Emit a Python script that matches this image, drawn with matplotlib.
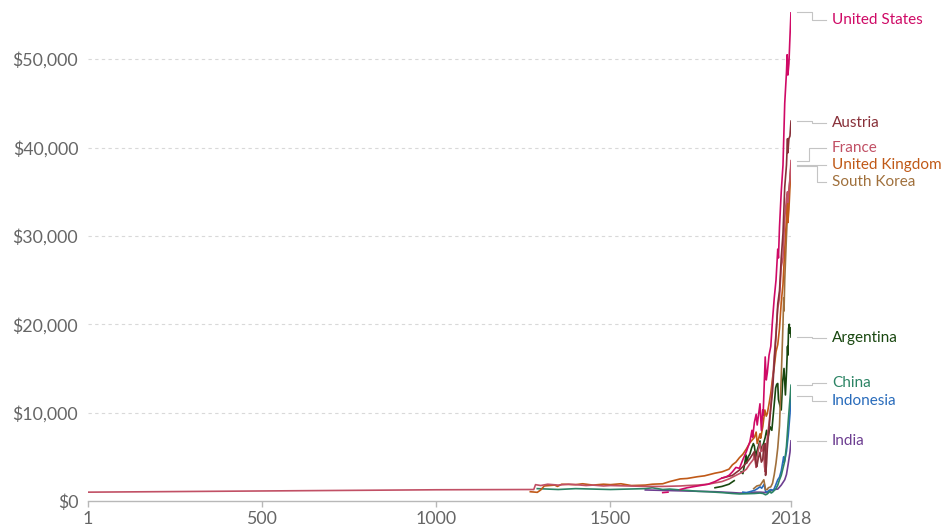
import numpy as np
import matplotlib
matplotlib.use("Agg")
import matplotlib.pyplot as plt
from matplotlib.transforms import blended_transform_factory

plt.rcParams['font.family'] = ['Lato', 'DejaVu Sans']

nan = np.nan

# ==================== DATA (GDP per capita) ===================
france_years = [1, 1000, 1280, 1285, 1300, 1320, 1350, 1380, 1400, 1430, 1450, 1480, 1500, 1550,
                1600, 1650, 1700, 1720, 1750, 1780, 1800, 1820, 1840, 1850, 1860, 1870, 1880,
                1890, 1900, 1910, 1913, 1915, 1918, 1920, 1925, 1929, 1932, 1936, 1939, 1942,
                1944, 1946, 1950, 1955, 1960, 1965, 1970, 1975, 1980, 1985, 1990, 1995, 2000,
                2005, 2008, 2009, 2012, 2015, 2018]
france_gdp = [1000, 1270, 1300, 1850, 1750, 1900, 1800, 1900, 1850, 1750, 1800, 1700, 1750, 1700,
              1650, 1650, 1700, 1750, 1800, 1900, 2050, 2200, 2500, 2700, 2900, 3100, 3300,
              3600, 4200, 4700, 5400, 4600, 3800, 4800, 5900, 6600, 5600, 5700, 6300, 3900,
              3300, 5400, 7100, 8800, 10700, 13200, 16400, 19000, 21800, 23000, 26500, 27500, 32000,
              34200, 35000, 33800, 35300, 36500, 38516]

austria_years = [1820, 1850, 1870, 1890, 1900, 1913, 1914, 1918, 1920, 1924, 1929, 1933, 1937,
                 1938, 1941, 1944, 1945, 1946, 1948, 1950, 1955, 1960, 1965, 1970, 1975, 1980,
                 1985, 1990, 1995, 2000, 2005, 2008, 2009, 2012, 2015, 2018]
austria_gdp = [2600, 2900, 3500, 4300, 4800, 5600, 5200, 4200, 3900, 4800, 5500, 4400, 4700,
               5300, 6300, 6500, 2900, 3300, 4300, 5900, 8200, 10500, 12400, 15700, 18700, 22300,
               23800, 27500, 30300, 35500, 38000, 41000, 39400, 41000, 41300, 42988]

uk_years = [1270, 1290, 1300, 1310, 1340, 1348, 1360, 1400, 1420, 1450, 1480, 1500, 1530, 1560,
            1600, 1620, 1650, 1670, 1700, 1720, 1750, 1770, 1800, 1820, 1840, 1850, 1860, 1870,
            1880, 1890, 1900, 1913, 1918, 1921, 1929, 1931, 1937, 1943, 1947, 1950, 1955, 1960,
            1965, 1970, 1975, 1980, 1985, 1990, 1995, 2000, 2005, 2007, 2009, 2012, 2015, 2018]
uk_gdp = [1050, 980, 1250, 1700, 1800, 1650, 1900, 1850, 1950, 1800, 1900, 1850, 1950, 1750,
          1800, 1900, 1950, 2200, 2500, 2550, 2750, 2850, 3150, 3300, 3600, 4100, 4400, 4900,
          5300, 5900, 6600, 7200, 7800, 6500, 7600, 7100, 8400, 10300, 9600, 9900, 11000, 12200,
          13900, 15200, 16900, 17700, 19500, 22500, 24500, 28500, 32000, 34000, 31500, 33000,
          35500, 38058]

us_years = [1650, 1665, 1680, 1700, 1720, 1750, 1780, 1800, 1820, 1830, 1840, 1850, 1860, 1870,
            1880, 1890, 1900, 1906, 1908, 1913, 1918, 1921, 1929, 1933, 1937, 1938, 1944, 1947,
            1950, 1955, 1960, 1965, 1970, 1975, 1980, 1982, 1985, 1990, 1995, 2000, 2005, 2007,
            2009, 2012, 2015, 2018]
us_gdp = [950, 1000, nan, 1300, 1500, 1700, 1900, 2200, 2600, 2700, 2900, 3300, 3800, 3700,
          4700, 5600, 6700, 8000, 7200, 8900, 9800, 8600, 11000, 8000, 10300, 9700, 16300, 13700,
          14500, 16500, 17500, 20500, 23000, 25000, 28500, 27500, 31000, 35000, 38000, 45000,
          48500, 50500, 48200, 49500, 52500, 55335]

korea_years = [1911, 1920, 1930, 1940, 1945, 1950, 1953, 1960, 1965, 1970, 1975, 1980, 1985,
               1990, 1995, 1997, 1998, 2000, 2005, 2008, 2010, 2015, 2018]
korea_gdp = [1400, 1700, 1800, 2400, 1300, 1300, 1500, 1600, 2000, 3000, 4300, 6000, 8500,
             14000, 20000, 23000, 21500, 25000, 30000, 32500, 34000, 36300, 37928]

argentina_years = [1800, 1820, 1840, 1855, 1865, 1875, 1880, 1885, 1889, 1891, 1895, 1900, 1905,
                   1910, 1913, 1917, 1920, 1929, 1932, 1939, 1944, 1948, 1952, 1958, 1963, 1970,
                   1974, 1977, 1980, 1982, 1985, 1990, 1994, 1998, 2002, 2005, 2008, 2009, 2011,
                   2013, 2014, 2015, 2017, 2018]
argentina_gdp = [1500, 1650, 1900, 2300, nan, 3300, 3100, 4200, 5200, 4300, 5000, 5300, 6000,
                 6500, 6200, 4900, 5600, 6800, 5700, 6500, 7200, 8000, 7200, 8400, 8000, 11000,
                 12800, 13200, 13300, 11500, 11000, 10300, 13500, 15000, 12000, 14500, 17500,
                 16500, 19500, 20000, 19000, 19600, 19500, 18556]

china_years = [1290, 1320, 1350, 1400, 1450, 1500, 1550, 1600, 1620, 1650, 1670, 1700, 1720,
               1750, 1780, 1800, 1820, 1850, 1870, 1890, 1913, 1929, 1938, 1945, 1950, 1958,
               1961, 1965, 1970, 1975, 1980, 1985, 1990, 1995, 2000, 2005, 2010, 2015, 2018]
china_gdp = [1400, 1350, 1300, 1400, 1350, 1300, 1350, 1400, 1500, 1300, 1350, 1250, 1200,
             1100, 1050, 1000, 950, 850, 800, 820, 850, 900, 850, 700, 800, 1100,
             900, 1000, 1200, 1400, 1800, 2400, 2900, 3700, 4500, 6200, 9000, 11500, 13102]

indonesia_years = [1880, 1890, 1900, 1913, 1920, 1929, 1934, 1941, 1945, 1949, 1955, 1960, 1967,
                   1970, 1975, 1980, 1985, 1990, 1997, 1998, 2000, 2005, 2010, 2015, 2018]
indonesia_gdp = [1000, 950, 1050, 1200, 1350, 1600, 1450, 1900, 1100, 1000, 1200, 1300, 1200,
                 1400, 1900, 2400, 2700, 3400, 5000, 4400, 4600, 5600, 7400, 9800, 11852]

india_years = [1600, 1650, 1700, 1750, 1800, 1850, 1870, 1900, 1913, 1930, 1947, 1950, 1960,
               1970, 1980, 1990, 2000, 2005, 2010, 2015, 2018]
india_gdp = [1250, 1200, 1150, 1100, 1050, 950, 900, 900, 1000, 1000, 950, 990, 1150,
             1300, 1350, 1800, 2400, 3000, 4200, 5500, 6806]

countries = ["United States", "Austria", "France", "United Kingdom", "South Korea",
             "Argentina", "China", "Indonesia", "India"]
series = [(us_years, us_gdp), (austria_years, austria_gdp), (france_years, france_gdp),
          (uk_years, uk_gdp), (korea_years, korea_gdp), (argentina_years, argentina_gdp),
          (china_years, china_gdp), (indonesia_years, indonesia_gdp), (india_years, india_gdp)]
colors = ["#CF0A66", "#883039", "#C15065", "#C05917", "#A0703C",
          "#18470F", "#2C8465", "#286BBB", "#6D3E91"]

# where the end labels sit (data units) and where the leader line bends (axes fraction)
label_y = [54400, 42800, 40000, 38050, 36050, 18450, 13400, 11350, 6750]
bend_x = [1.030, 1.030, 1.025, 1.030, 1.037, 1.030, 1.030, 1.030, 1.030]

x_ticks = [1, 500, 1000, 1500, 2018]
y_ticks = [0, 10000, 20000, 30000, 40000, 50000]

# ==================== PLOT ===================
fig = plt.figure(figsize=(9.43, 5.30), dpi=100)
ax = fig.add_axes([88 / 943, 29 / 530, 703 / 943, 489 / 530])

draw_order = [8, 7, 6, 5, 4, 3, 2, 1, 0]
for i in draw_order:
    yrs, vals = series[i]
    ax.plot(yrs, vals, color=colors[i], lw=1.2, solid_joinstyle='round', zorder=3 + (8 - i) * 0.01)

ax.set_xlim(1, 2018)
ax.set_ylim(0, 55335)
ax.set_xticks(x_ticks)
ax.set_xticklabels([str(t) for t in x_ticks])
ax.set_yticks(y_ticks)
ax.set_yticklabels(["$0"] + ["${:,}".format(t) for t in y_ticks[1:]])

for side in ["top", "right", "left"]:
    ax.spines[side].set_visible(False)
ax.spines["bottom"].set_color("#b8b8b8")
ax.spines["bottom"].set_linewidth(1.0)
ax.tick_params(axis="x", colors="#b8b8b8", labelcolor="#666666", labelsize=12.8,
               length=4, width=1.0, pad=3)
ax.tick_params(axis="y", length=0, labelcolor="#666666", labelsize=12.8, pad=7)
ax.yaxis.grid(True, color="#d9d9d9", linestyle=(0, (3, 3)), lw=0.8)
ax.set_axisbelow(True)
for gl in ax.yaxis.get_gridlines()[:1]:
    gl.set_visible(False)

trans = blended_transform_factory(ax.transAxes, ax.transData)
for i, name in enumerate(countries):
    yrs, vals = series[i]
    yend = vals[-1]
    ax.plot([1.0085, bend_x[i], bend_x[i], 1.0498], [yend, yend, label_y[i], label_y[i]],
            transform=trans, color="#c4c4c4", lw=0.8, clip_on=False)
    ax.text(1.0583, label_y[i], name, transform=trans, color=colors[i], fontsize=11,
            va="center", ha="left")

fig.savefig("out.png", dpi=100)
